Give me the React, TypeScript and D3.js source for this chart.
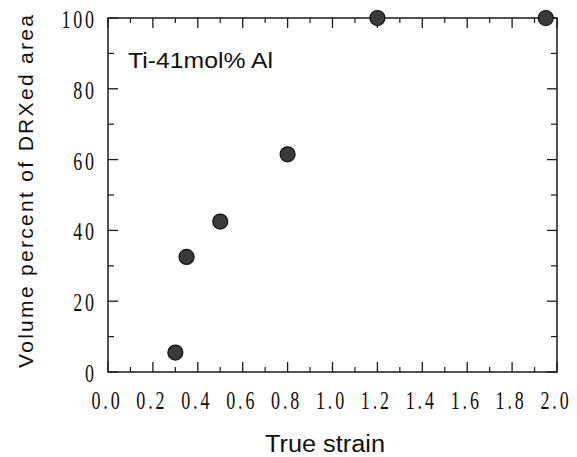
import React from "react";
import * as d3 from "d3";

const strain = [0.3, 0.35, 0.5, 0.8, 1.2, 1.95];
const volumePct = [5.5, 32.5, 42.5, 61.5, 100, 100];
const xTickLabels = ["0.0", "0.2", "0.4", "0.6", "0.8", "1.0", "1.2", "1.4", "1.6", "1.8", "2.0"];
const yTickLabels = ["0", "20", "40", "60", "80", "100"];
const annotation = "Ti-41mol% Al";
const xTitle = "True strain";
const yTitle = "Volume percent of DRXed area";

const W = 577, H = 457;
const L = 108, R = 557, T = 18, B = 372;

export default function App() {
  const x = d3.scaleLinear().domain([0, 2]).range([L, R]);
  const y = d3.scaleLinear().domain([0, 100]).range([B, T]);
  const xMajor = xTickLabels.map(Number);
  const xMinor = d3.range(0.1, 2, 0.2);
  const yMajor = yTickLabels.map(Number);
  const yMinor = d3.range(10, 100, 20);
  const stroke = "#1a1a1a";
  const serif = "'Liberation Serif', 'Times New Roman', serif";
  const sans = "'Liberation Sans', Arial, sans-serif";
  return (
    <svg width={W} height={H} style={{ display: "block", position: "absolute", left: 0, top: 0 }}>
      <rect x={0} y={0} width={W} height={H} fill="#fff" />
      <rect x={L} y={T} width={R - L} height={B - T} fill="none" stroke={stroke} strokeWidth={1.5} />
      {xMajor.map((v) => (
        <g key={"xm" + v}>
          <line x1={x(v)} x2={x(v)} y1={B} y2={B - 10} stroke={stroke} strokeWidth={1.3} />
          <line x1={x(v)} x2={x(v)} y1={T} y2={T + 10} stroke={stroke} strokeWidth={1.3} />
        </g>
      ))}
      {xMinor.map((v) => (
        <g key={"xn" + v}>
          <line x1={x(v)} x2={x(v)} y1={B} y2={B - 5} stroke={stroke} strokeWidth={1.2} />
          <line x1={x(v)} x2={x(v)} y1={T} y2={T + 5} stroke={stroke} strokeWidth={1.2} />
        </g>
      ))}
      {yMajor.map((v) => (
        <g key={"ym" + v}>
          <line x1={L} x2={L + 10} y1={y(v)} y2={y(v)} stroke={stroke} strokeWidth={1.3} />
          <line x1={R} x2={R - 10} y1={y(v)} y2={y(v)} stroke={stroke} strokeWidth={1.3} />
        </g>
      ))}
      {yMinor.map((v) => (
        <g key={"yn" + v}>
          <line x1={L} x2={L + 6} y1={y(v)} y2={y(v)} stroke={stroke} strokeWidth={1.2} />
          <line x1={R} x2={R - 6} y1={y(v)} y2={y(v)} stroke={stroke} strokeWidth={1.2} />
        </g>
      ))}
      {xTickLabels.map((t, i) => (
        <text
          key={"xl" + t}
          transform={`translate(${x(xMajor[i]) - 1},409) scale(0.72,1)`}
          textAnchor="middle"
          fontFamily={serif}
          fontSize={25}
          letterSpacing={4}
          fill="#111"
        >
          {t}
        </text>
      ))}
      {yTickLabels.map((t, i) => (
        <text
          key={"yl" + t}
          transform={`translate(97,${y(yMajor[i]) + 10}) scale(0.72,1)`}
          textAnchor="end"
          fontFamily={serif}
          fontSize={25}
          letterSpacing={4}
          fill="#111"
        >
          {t}
        </text>
      ))}
      <text x={128} y={68} fontFamily={sans} fontSize={22} textLength={145} lengthAdjust="spacingAndGlyphs" fill="#111">
        {annotation}
      </text>
      <text x={265} y={452} fontFamily={sans} fontSize={23} textLength={120} lengthAdjust="spacingAndGlyphs" fill="#111">
        {xTitle}
      </text>
      <text
        transform={`translate(33,368) rotate(-90)`}
        fontFamily={sans}
        fontSize={21}
        textLength={353}
        lengthAdjust="spacing"
        fill="#111"
      >
        {yTitle}
      </text>
      {strain.map((s, i) => (
        <circle key={"p" + i} cx={x(s)} cy={y(volumePct[i])} r={7.5} fill="#3a3a3a" stroke="#111" strokeWidth={1.2} />
      ))}
    </svg>
  );
}
